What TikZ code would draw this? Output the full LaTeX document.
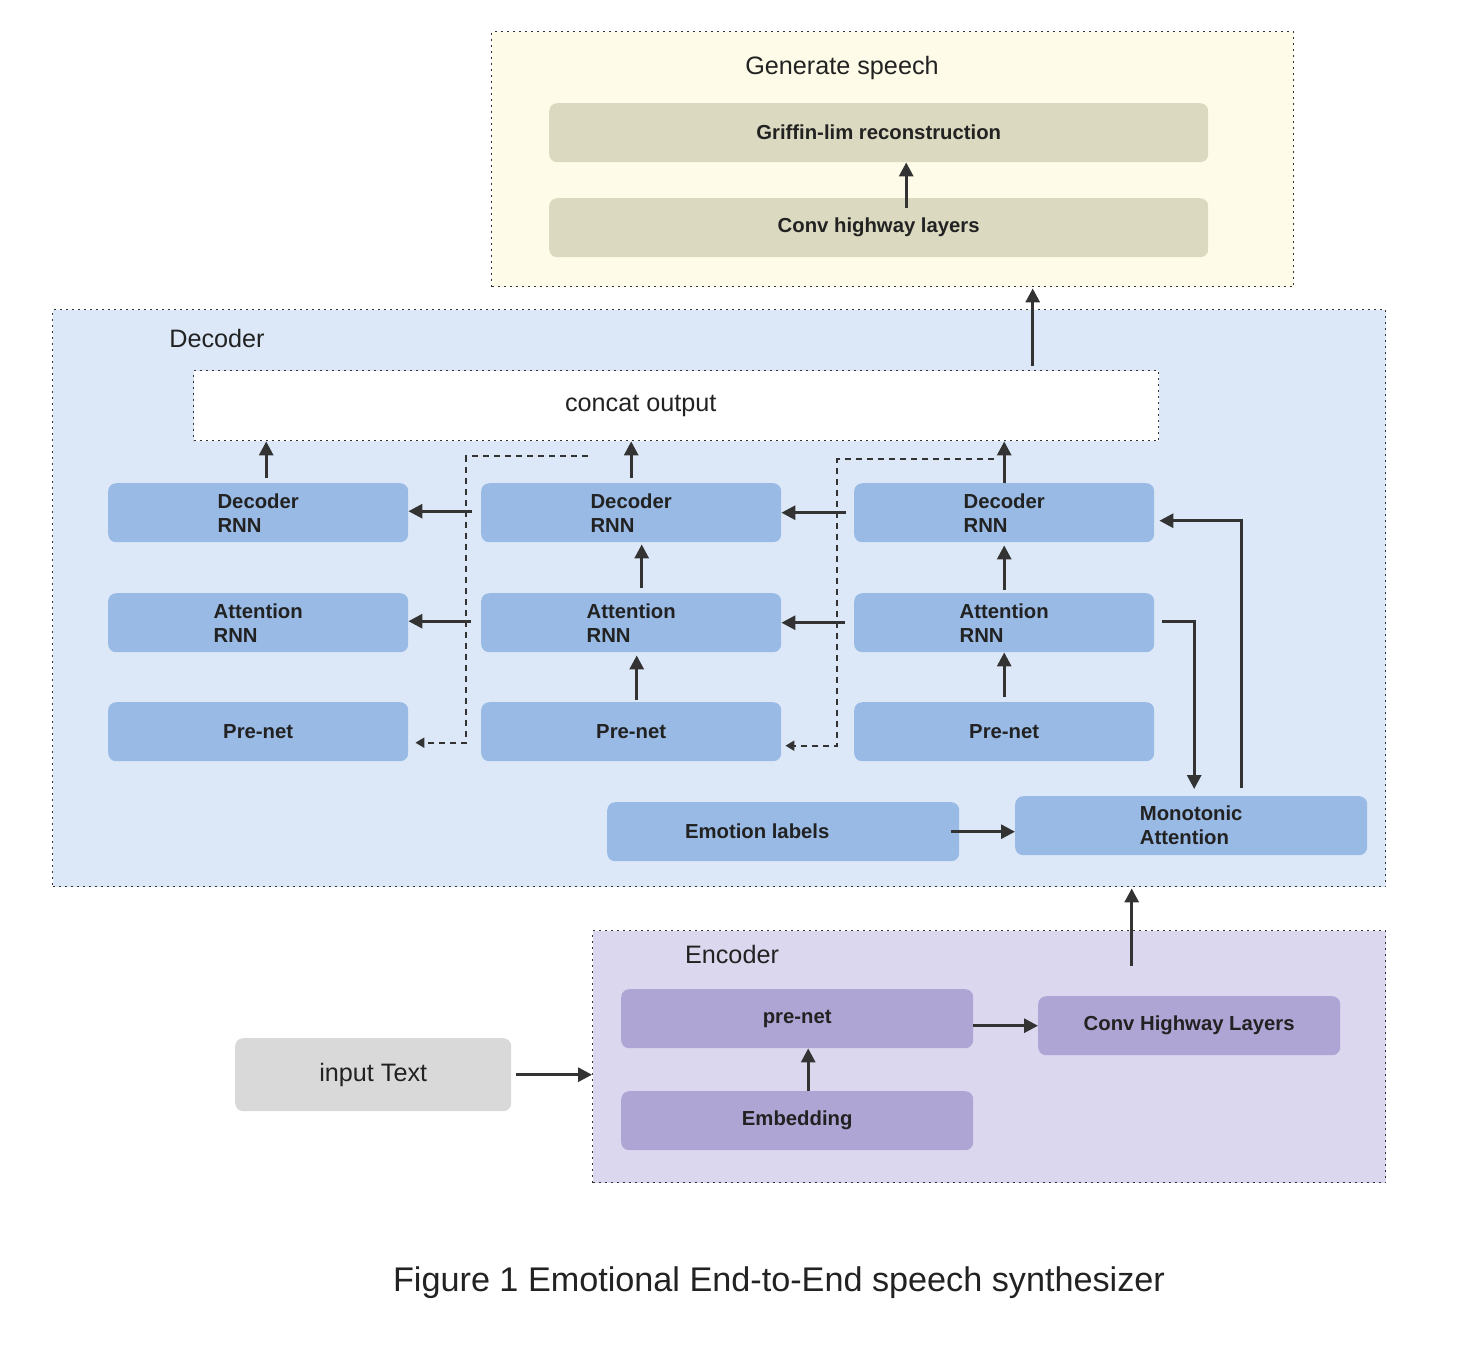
\documentclass[tikz,border=0pt]{standalone}
\usepackage{fontspec}
\setmainfont{Liberation Sans}
\usetikzlibrary{arrows.meta,calc}
\definecolor{genfill}{HTML}{FEFCE8}
\definecolor{decfill}{HTML}{DCE8F8}
\definecolor{encfill}{HTML}{DBD7EF}
\definecolor{khaki}{HTML}{DBD9C0}
\definecolor{blueb}{HTML}{98BAE4}
\definecolor{purpb}{HTML}{AEA5D5}
\definecolor{greyb}{HTML}{D9D9D9}
\definecolor{ink}{HTML}{333333}
\definecolor{txt}{HTML}{222222}
\newcommand{\boldlbl}{\fontsize{20.3}{24}\selectfont\bfseries}
\newcommand{\titlelbl}{\fontsize{25.2}{28}\selectfont}
\tikzset{
  container/.style={draw=ink, line width=1.4pt, dash pattern=on 2pt off 4pt, rectangle, inner sep=0pt, anchor=north west},
  box/.style={rectangle, rounded corners=8pt, inner sep=0pt, anchor=north west, text=txt, font=\boldlbl, align=left},
  ttl/.style={text=txt, font=\titlelbl, inner sep=0pt},
  arr/.style={draw=ink, line width=3pt, -{Triangle[length=14pt,width=14pt]}},
  darr/.style={draw=ink, line width=2pt, dash pattern=on 6pt off 5pt, -{Triangle[length=9pt,width=10pt]}},
}
\begin{document}
\begin{tikzpicture}[x=1pt,y=-1pt]
\useasboundingbox[fill=white] (0,0) rectangle (1464,1355);
% containers
\node[container, fill=genfill, minimum width=802pt, minimum height=255pt] (gen) at (491,31) {};
\node[container, fill=decfill, minimum width=1333pt, minimum height=577pt] (dec) at (52,309) {};
\node[container, fill=encfill, minimum width=793pt, minimum height=252pt] (enc) at (592,930) {};
\node[container, fill=white, minimum width=965pt, minimum height=70pt, font=\titlelbl, text=txt] (concat) at (193,370) {\hspace*{-71pt}concat output};
% container titles
\node[ttl] (gentitle) at (842,68) {Generate speech};
\node[ttl] (dectitle) at (217,338) {Decoder};
\node[ttl] (enctitle) at (732,954) {Encoder};
% generate speech boxes
\node[box, fill=khaki, minimum width=659pt, minimum height=59pt] (grif) at (549,103) {Griffin-lim reconstruction};
\node[box, fill=khaki, minimum width=659pt, minimum height=59pt] (conv) at (549,198) {Conv highway layers};
% decoder boxes
\node[box, fill=blueb, minimum width=300pt, minimum height=59pt] (d1) at (108,483) {Decoder\\RNN};
\node[box, fill=blueb, minimum width=300pt, minimum height=59pt] (d2) at (481,483) {Decoder\\RNN};
\node[box, fill=blueb, minimum width=300pt, minimum height=59pt] (d3) at (854,483) {Decoder\\RNN};
\node[box, fill=blueb, minimum width=300pt, minimum height=59pt] (a1) at (108,593) {Attention\\RNN};
\node[box, fill=blueb, minimum width=300pt, minimum height=59pt] (a2) at (481,593) {Attention\\RNN};
\node[box, fill=blueb, minimum width=300pt, minimum height=59pt] (a3) at (854,593) {Attention\\RNN};
\node[box, fill=blueb, minimum width=300pt, minimum height=59pt] (p1) at (108,702) {Pre-net};
\node[box, fill=blueb, minimum width=300pt, minimum height=59pt] (p2) at (481,702) {Pre-net};
\node[box, fill=blueb, minimum width=300pt, minimum height=59pt] (p3) at (854,702) {Pre-net};
\node[box, fill=blueb, minimum width=352pt, minimum height=59pt] (emo) at (607,802) {\hspace*{-52pt}Emotion labels};
\node[box, fill=blueb, minimum width=352pt, minimum height=59pt] (mono) at (1015,796) {Monotonic\\Attention};
% encoder boxes
\node[box, fill=purpb, minimum width=352pt, minimum height=59pt] (epre) at (621,989) {pre-net};
\node[box, fill=purpb, minimum width=352pt, minimum height=59pt] (emb) at (621,1091) {Embedding};
\node[box, fill=purpb, minimum width=302pt, minimum height=59pt] (chl) at (1038,996) {Conv Highway Layers};
\node[box, fill=greyb, minimum width=276pt, minimum height=73pt, font=\titlelbl] (inp) at (235,1038) {input Text};
% caption
\node[text=txt, font=\fontsize{34.2}{38}\selectfont, inner sep=0pt] (cap) at (779,1283) {Figure 1 Emotional End-to-End speech synthesizer};
% arrows
\draw[arr] ($(conv.north)+(27.5,10)$) -- ($(grif.south)+(27.5,0)$);
\draw[arr] ($(concat.north)+(356.5,-4)$) -- ($(gen.south)+(140,1)$);
\draw[arr] ($(enc.north)+(142.5,36)$) -- ($(dec.south)+(412.5,1)$);
\draw[arr] ($(inp.east)+(5,0)$) -- (enc.west |- inp.east);
\draw[arr] ($(emb.north)+(11,0)$) -- ($(epre.south)+(11,0)$);
\draw[arr] (epre.east |- chl.west) -- (chl.west);
\draw[arr] ($(emo.east)+(-8,0)$) -- (mono.west |- emo.east);
\draw[arr] ($(a3.east)+(8,-1)$) -| ($(mono.north)+(3,-7)$);
\draw[arr] ($(mono.north)+(50,-8)$) |- ($(d3.east)+(5,8)$);
\draw[arr] ($(p3.north)+(0,-5)$) -- (a3.south);
\draw[arr] ($(a3.north)+(0,-3)$) -- ($(d3.south)+(0,3)$);
\draw[arr] (d3.north) -- (d3.north |- concat.south);
\draw[arr] ($(d3.west)+(-8,0)$) -- (d2.east);
\draw[arr] ($(a3.west)+(-9,0)$) -- (a2.east);
\draw[darr] ($(d3.north)+(-10.5,-24)$) -| ($(p2.east)+(56,14)$) -- ($(p2.east)+(4,14)$);
\draw[arr] ($(p2.north)+(5.5,-2)$) -- ($(a2.south)+(5.5,3)$);
\draw[arr] ($(a2.north)+(10.5,-5)$) -- ($(d2.south)+(10.5,2)$);
\draw[arr] ($(d2.north)+(0,-5)$) -- (d2.north |- concat.south);
\draw[arr] ($(d2.west)+(-9,-1.5)$) -- ($(d1.east)+(0,-1.5)$);
\draw[arr] ($(a2.west)+(-10,-1.5)$) -- ($(a1.east)+(0,-1.5)$);
\draw[darr] ($(d2.north)+(-43.5,-27)$) -| ($(p1.east)+(58,11)$) -- ($(p1.east)+(7,11)$);
\draw[arr] ($(d1.north)+(8,-5)$) -- ($(d1.north |- concat.south)+(8,0)$);
\end{tikzpicture}
\end{document}
